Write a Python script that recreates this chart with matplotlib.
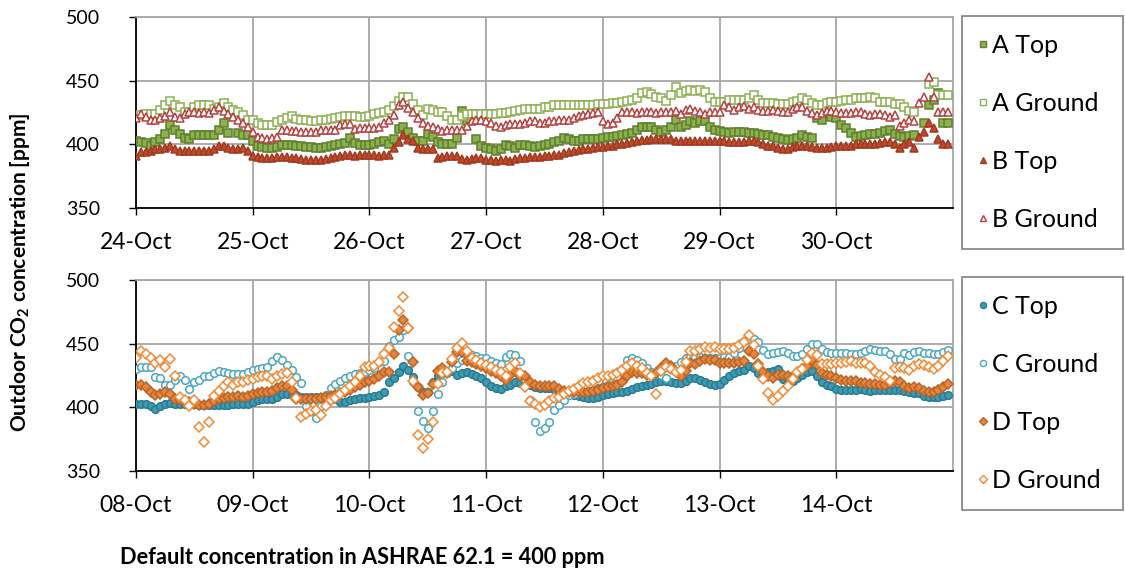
import matplotlib
matplotlib.use("Agg")
import matplotlib.pyplot as plt
from matplotlib.lines import Line2D
import numpy as np

plt.rcParams['font.family'] = ['Lato', 'DejaVu Sans']
plt.rcParams['mathtext.fontset'] = 'custom'
plt.rcParams['mathtext.rm'] = 'Lato'
plt.rcParams['mathtext.bf'] = 'Lato:bold'

nan = np.nan

# ---- top panel: 24-Oct .. 30-Oct, hourly readings (ppm) ----
top_days = ['24-Oct', '25-Oct', '26-Oct', '27-Oct', '28-Oct', '29-Oct', '30-Oct']

a_top = [
    403, 402, 401, 399, 402, 404, 408, 415, 411, 408, 405, 404, 407, 407, 407, 407, 407, 411, 417, 409, nan, 409, 407, 407,
    403, 399, 398, 397, 397, 398, 399.5, 399.5, 399.5, 399, 398.5, 398, 398, 397, 397, 398, 398.5, 399.5, 400.5, 401, 405, 401, 399.5, 399.5,
    399.5, 400.5, 401.5, 402.5, 400.5, 404, 412, 414, 409.5, 405, 403, 403, 408, 406, 401.5, 400.5, 400.5, 400.5, 405, 426, 418, nan, 404, 399,
    397, 396, 395, 396, 399.5, 398.5, 397, 399.5, 399.5, 398.5, 398, 398.5, 399.5, 400.5, 401.5, 402.5, 405, 404, 403, 403, 404, 404.5, 404.5, 404.5,
    405, 405.5, 406, 406.5, 407, 408, 409, 411, 414, 414, 414, 411, 410, 411, 414, 419, 414, 415, 418, 417, 418, 418, 413.5, 411,
    410.5, 409.5, 409, 409.5, 410, 410, 409, 409, 408, 407.5, 407, 406, 405, 404, 403.5, 404, 405, 407.5, 405.5, 405, 420.5, 419.5, nan, 421.5,
    420.5, 415.5, 412.5, 409, 406, 406.5, 407.5, 408, 408.5, 409, 410.5, 411, 408, 406.5, 406, 406.5, 407.5, nan, 417, 431, 435, 440, 416.5, 417,
]
a_ground = [
    423, 423, 424, 424, 424, 427, 431, 434, 431, 429, 425.5, 425.5, 429, 431, 431, 431, 428, 429, 432.5, 429, 427, 425.5, 423, 419.5,
    419, 417, 415, 415, 415.5, 417.5, 419.5, 421, 422, 420, 419, 419, 418.5, 418.5, 419, 419.5, 420, 420.5, 421.5, 422, 422.5, 422, 421.5, 421.5,
    422, 424, 424.5, 425.5, 427, 430, 434, 437.5, 437, 432, 427, 423, 428, 427, 425.5, 425.5, 422.5, 419, 419, 422.5, 424, 424, 424, 424,
    424, 424, 424, 424.5, 425, 425.5, 426, 427, 427.5, 428, 428, 428, 429, 429, 430.5, 431, 431, 431, 431, 431, 430.5, 431, 431, 431.5,
    431.5, 432, 432.5, 432.5, 433, 434, 434.5, 436, 440, 441, 439.5, 437, 436, 434, 438.5, 445, 440, 442, 443, 442, 443, 441, 436, 433,
    433, 433, 435, 435, 435, 435, 436, 438.5, 434.5, 432.5, 432.5, 432.5, 432, 432, 432, 433, 434, 436, 434.5, 432.5, 430.5, 430.5, 432.5, 433,
    433, 434, 434.5, 434.5, 436, 436, 436.5, 437, 436, 433, 433, 433, 432, 432, 429, 426, 425.5, nan, nan, 447, 449, 439, 438.5, 438.5,
]
b_top = [
    391, 394, 394, 394.5, 396, 396.5, 397, 398.5, 396, 394.5, 394.5, 394.5, 394.5, 394.5, 394.5, 394.5, 396, 398.5, 399, 397, 396.5, 396.5, 397, 395,
    391, 390, 389.5, 389.5, 389.5, 390, 390, 390, 389.5, 389.5, 388.5, 388, 387.5, 387.5, 388, 388.5, 389.5, 390, 391, 391.5, 391.5, 391, 391.5, 391.5,
    391.5, 391.5, 391, 391.5, 392, 397, 401.5, 407.5, 404, 403, 397, 396, 396, 396, 389.5, 390, 391, 391, 391, 388.5, 387.5, 388.5, 389.5, 389.5,
    388, 388, 387, 387.5, 387.5, 387, 388.5, 389.5, 389.5, 390, 390, 390, 391, 391, 391.5, 392, 393, 394, 395, 395.5, 396, 396, 397, 398,
    398, 398.5, 399, 400, 400.5, 401, 402, 403, 403.5, 403.5, 404, 404, 404, 404, 404, 403, 403, 403, 403, 403, 403, 403, 403, 403,
    403, 403, 402, 401.5, 401.5, 401.5, 403, 403, 402, 400, 399, 398.5, 397, 396.5, 396.5, 398, 398.5, 398.5, 398.5, 398, 397, 397, 397, 398,
    398.5, 399, 399, 399, 400, 400, 400.5, 400.5, 400.5, 401, 401.5, 402, 400.5, 397, 400, 402, 397, 406, 410, 417, 413, 404, 400, 400,
]
b_ground = [
    420.5, 424, 421.5, 419, 419.5, 420.5, 422, 425.5, 421.5, 420.5, 423.5, 425.5, 425.5, 424.5, 425.5, 424.5, 427, 429, 426.5, 424, 421.5, 419, 417, 413.5,
    410, 406, 405, 404, 405, 406, 411, 411, 410.5, 410.5, 410, 410, 409.5, 410, 411, 411, 411, 411.5, 415, 416, 416, 412, 413, 413,
    413, 413, 414, 417, 419, 423, 430.5, 433, 428.5, 425.5, 420.5, 416.5, 414.5, 413.5, 412, 410.5, 411, 411, 411, 411.5, 414.5, 418, 419, 419,
    418, 416.5, 414.5, 414, 415, 416, 416, 416, 417, 418, 418, 416.5, 416.5, 418.5, 418.5, 419, 419.5, 419.5, 421, 422, 423, 424, 424.5, 425.5,
    418, 416, 416.5, 420.5, 425.5, 425.5, 425.5, 424.5, 425.5, 425.5, 425.5, 424.5, 425.5, 425.5, 425.5, 426, 424, 427, 428, 426, 425.5, 424, 425.5, 425.5,
    425.5, 430.5, 429.5, 427, 429, 430, 428, 429, 427, 426, 426, 427, 426, 425.5, 425.5, 428, 429, 429, 426.5, 424.5, 423, 424.5, 426, 426,
    425.5, 424.5, 424.5, 424.5, 425.5, 425.5, 424, 423, 424, 424, 423, 421.5, 423, 414.5, 416.5, 419.5, 418.5, 432.5, 437.5, 453, 437, 425.5, 425.5, 425.5,
]

# ---- bottom panel: 08-Oct .. 14-Oct ----
bottom_days = ['08-Oct', '09-Oct', '10-Oct', '11-Oct', '12-Oct', '13-Oct', '14-Oct']

c_top = [
    402.3, 402.3, 402.3, 401, 398.4, 401, 402.8, 403.6, 402.8, 402.8, 402.3, 402.3, 402.3, 402, 402, 401.5, 401.5, 401.5, 402, 402, 402.8, 402.8, 402.8, 402.8,
    404, 405.4, 406.2, 406.7, 406.7, 408, 410.6, 410.6, 410.6, 409.3, 408, 408, 408, 408, 408, 406.7, 406.2, 406.2, 404, 404, 405.4, 406.7, 407.2, 407.2,
    408, 408.8, 409.8, 411.9, 419.7, 422.8, 428, 432.6, 429.5, 423.6, 415.8, 412.4, 412.4, 419.7, 424.9, 427, 428, 428.8, 425.4, 427, 428, 426.2, 424.4, 422.8,
    420.2, 416.6, 415, 414.5, 416.6, 417.6, 419.7, 419.2, 418.4, 417.6, 415.8, 415, 415, 415, 414.5, 413.2, 411.4, 410.6, 409.3, 408.8, 408, 407.2, 407.2, 408,
    409.8, 410.6, 411.4, 411.9, 412.4, 413.2, 414.5, 415.8, 416.6, 417.6, 418.4, 419.7, 421, 421, 419.7, 419, 419.2, 421, 422.8, 422.8, 421.8, 419.7, 418.4, 417.6,
    418.4, 421.8, 424.4, 427, 428.8, 429.5, 432.6, 430.6, 427, 426.2, 428, 428.8, 430, 422.3, 419.7, 421, 422.8, 425.4, 428, 428.8, 424.9, 419.7, 417.6, 416.6,
    414.5, 414, 414, 414, 414, 414.5, 414, 413.2, 414, 414, 414, 414, 414, 414, 413.2, 412.4, 411.4, 411.4, 408.8, 408, 408, 408, 408.8, 410,
]
c_ground = [
    430, 431.3, 431.3, 431.8, 423.6, 422.8, 417.6, 417.6, 421.8, 424.9, 421.8, 414.5, 419.7, 421.8, 424.4, 424.9, 427, 428.8, 427.5, 427, 426.2, 426.2, 426.2, 427.5,
    429, 430, 431, 432, 436.5, 439.5, 437, 433, 429.5, 424, 419, 401, 397, 392, 401, 410, 415, 418.5, 421, 423, 424.5, 426, 427, 428,
    429, 431, 435.5, 436, 448, 453, 455, 460.5, 440.5, 420, 397, 389, 383.5, 397.5, 410.5, 420, 427, 431, 434.5, 437, 441.5, 441, 440, 438.5,
    438.5, 436.5, 435, 434, 439.5, 442, 441, 436.5, 422, 406, 388.6, 381.6, 384, 388.6, 398, 402, 406, 409.3, 410.6, 411.9, 412.4, 413.2, 414, 415,
    416, 417.5, 420, 424, 430, 437.5, 438.5, 437.5, 435, 431, 428, 426, 425, 423, 430, 432.6, 435.7, 439.1, 439.9, 439.9, 439.9, 439.1, 439.1, 439.1,
    439.1, 439.9, 439.9, 443, 446.9, 452, 453.4, 453.4, 451.3, 445.1, 441.7, 443, 443.5, 444.3, 442.5, 440.4, 440.4, 441.7, 446.1, 449.5, 449.5, 446.1, 443.5, 443,
    443, 443, 443, 441.7, 441.7, 443, 444.3, 445.6, 445.1, 444.3, 444.3, 441.7, 437.8, 438.3, 443, 441, 443.5, 444.3, 443, 442.5, 441.7, 441.7, 443.5, 445,
]
d_top = [
    417.6, 417.6, 415.8, 411.9, 409.8, 410.6, 411.9, 410.6, 406.2, 405.4, 404.1, 404.1, 402.8, 402, 402, 402.8, 404.7, 406.2, 407.2, 408, 408, 408.8, 408, 408.8,
    410.6, 411.4, 411.9, 412.4, 413.2, 415, 416.6, 417.1, 414, 406.7, 406.7, 406.7, 406.7, 406.7, 407.2, 408, 408.8, 409.8, 411.4, 412.4, 414, 415.8, 417.6, 419.7,
    421, 422.3, 424.4, 428, 428, 441.7, 461.1, 468.9, 462.4, 435.7, 415.8, 409.8, 411.4, 418.4, 428.8, 430.6, 427, 435.7, 443.5, 443.5, 436.5, 435.7, 433.9, 432.6,
    430.6, 428.8, 427, 424.4, 421.8, 425.4, 428.8, 424.4, 424.4, 419.7, 417.6, 417.1, 417.1, 417.1, 417.1, 414.5, 413.2, 412.4, 412.4, 411.9, 411.9, 411.9, 413.2, 414,
    415, 415.8, 416.6, 417.6, 419.7, 424.4, 428, 427, 427, 425.4, 425.4, 427, 430.6, 434.7, 432.6, 428, 424.9, 428.8, 435.2, 433.9, 436.5, 437.8, 437.3, 437.3,
    435.2, 434.7, 434.7, 435.2, 435.7, 436.5, 444.3, 442.2, 433.9, 428, 424.9, 422.8, 425.4, 425.4, 424.4, 423.6, 427, 430, 432.1, 437.3, 433.2, 427, 425.4, 424.4,
    422.8, 421.8, 421, 421, 421, 419.2, 419.2, 418.4, 418.4, 417.6, 417.6, 419.2, 421, 419.7, 416.6, 415, 415.8, 415, 413.2, 412.4, 412.4, 414, 415.8, 418,
]
d_ground = [
    439.1, 444.3, 441.7, 439.1, 435.2, 437.3, 431.3, 438.3, 424.4, 408, 405.4, 401, 405.4, 384.7, 372.5, 388.1, 408.8, 413.2, 417.1, 419.7, 417.6, 419.7, 419.7, 421.8,
    422.3, 423.6, 424.9, 424.4, 422.3, 424.9, 426.2, 427, 419.7, 407.2, 392.5, 395.1, 396.9, 398, 393.8, 401, 405.4, 407.2, 410.6, 414, 417.1, 419.7, 424.4, 431.3,
    432.1, 432.6, 435.7, 441.7, 446.9, 463.2, 475.4, 487, 462.4, 421, 378.2, 368.4, 375.1, 388.6, 418.4, 427, 428, 438.3, 446.9, 450.8, 444.3, 439.1, 437.3, 434.7,
    433.2, 431.3, 429.5, 428, 424.4, 431.3, 434.7, 427, 415.8, 404.7, 402.8, 400.3, 402, 404.7, 407.2, 408, 410.6, 413.2, 414.5, 417.1, 419.2, 420.2, 421, 422.8,
    424.4, 424.9, 425.4, 427, 429.5, 432.6, 434.7, 432.6, 430.6, 427, 424.9, 410.6, 428.8, 431.3, 430, 428, 429, 435.7, 444.3, 444.3, 446.1, 447.7, 446.9, 447.7,
    446.1, 446.1, 446.1, 446.9, 448.7, 451.3, 456.5, 448.7, 432.6, 422.3, 411.4, 405.4, 408.8, 413.2, 417.1, 422.3, 428, 430, 437.3, 443, 441, 434, 434, 434,
    434.7, 435.2, 435.7, 436.5, 435.2, 435.2, 434.7, 432.1, 428, 425.4, 423.6, 421, 430.6, 431.3, 430.6, 429.5, 432.6, 434, 433.2, 431.3, 430, 432.6, 436.5, 440,
]

# marker styles: (label, data, marker, face, edge, size)
top_series = [
    ('A Top', a_top, 's', '#8DB04F', '#5F7F2C', 5.2),
    ('A Ground', a_ground, 's', 'white', '#8CB050', 5.2),
    ('B Top', b_top, '^', '#BE4B2B', '#A13A22', 6.0),
    ('B Ground', b_ground, '^', 'white', '#B8403F', 6.0),
]
bottom_series = [
    ('C Top', c_top, 'o', '#3B9BB2', '#2B7B90', 5.5),
    ('C Ground', c_ground, 'o', 'white', '#4BA7C0', 5.5),
    ('D Top', d_top, 'D', '#E8863D', '#B8652A', 4.8),
    ('D Ground', d_ground, 'D', 'white', '#F28A35', 4.8),
]

W, H = 1125, 571


def draw_panel(ax, series, day_labels):
    hours = np.arange(len(series[0][1])) / 24.0
    for label, vals, mk, fc, ec, ms in series:
        ax.plot(hours, np.array(vals, dtype=float), linestyle='none', marker=mk,
                markersize=ms, markerfacecolor=fc, markeredgecolor=ec,
                markeredgewidth=1.1, label=label, zorder=3)
    ax.set_xlim(0, 7)
    ax.set_ylim(350, 500)
    ax.set_yticks([350, 400, 450, 500])
    ax.set_xticks(range(7))
    ax.set_xticklabels(day_labels)
    ax.tick_params(axis='y', labelsize=14, length=5, width=1, direction='out', pad=21)
    ax.tick_params(axis='x', labelsize=16.5, length=5, width=1, direction='out', pad=12)
    ax.grid(True, color='#A6A6A6', linewidth=1.3, zorder=0)
    ax.set_axisbelow(True)
    for side in ['top', 'right']:
        ax.spines[side].set_color('#A6A6A6')
        ax.spines[side].set_linewidth(1.3)
    for side in ['left', 'bottom']:
        ax.spines[side].set_color('black')
        ax.spines[side].set_linewidth(1.3)

    handles = [Line2D([], [], linestyle='none', marker=mk, markersize=ms * 0.8,
                      markerfacecolor=fc, markeredgecolor=ec, markeredgewidth=1.0)
               for _, _, mk, fc, ec, ms in series]
    labels = [s[0] for s in series]
    return handles, labels


fig = plt.figure(figsize=(W / 100, H / 100), dpi=100)

ax_top = fig.add_axes([136 / W, 1 - 208 / H, 817 / W, 191 / H])
ax_bot = fig.add_axes([136 / W, 1 - 471 / H, 817 / W, 191 / H])

for ax, series, days, box_top in [(ax_top, top_series, top_days, 16),
                                  (ax_bot, bottom_series, bottom_days, 277)]:
    handles, labels = draw_panel(ax, series, days)
    leg = ax.legend(handles, labels, loc='upper left',
                    bbox_to_anchor=(962 / W, 1 - box_top / H, 161 / W, 0),
                    bbox_transform=fig.transFigure, mode='expand',
                    fontsize=18, frameon=True, fancybox=False, framealpha=1,
                    edgecolor='#808080', borderpad=0.72, labelspacing=1.4,
                    handlelength=0.25, handletextpad=0.25, borderaxespad=0)
    leg.get_frame().set_linewidth(1.2)

fig.text(20 / W, 1 - 272 / H, 'Outdoor CO$_\\mathbf{2}$ concentration [ppm]',
         rotation=90, ha='center', va='center', fontsize=15, fontweight='bold')
fig.text(120 / W, 1 - 557 / H, 'Default concentration in ASHRAE 62.1 = 400 ppm',
         ha='left', va='center', fontsize=15.7, fontweight='bold')

fig.savefig('out.png', dpi=100)
